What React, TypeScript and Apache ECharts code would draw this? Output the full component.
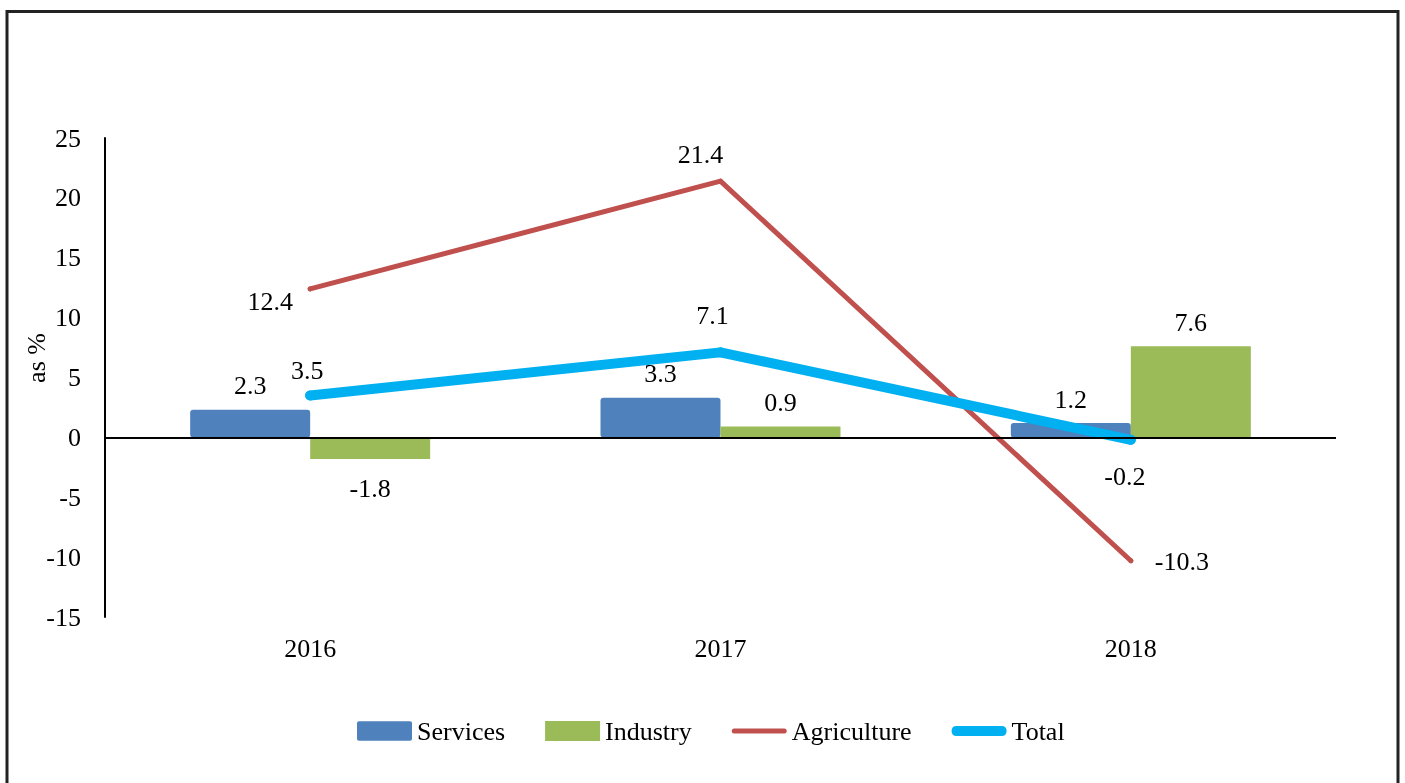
import React, { useEffect, useRef } from "react";
import * as echarts from "echarts";

const categories = ["2016", "2017", "2018"];
const services = [2.3, 3.3, 1.2];
const industry = [-1.8, 0.9, 7.6];
const agriculture = [12.4, 21.4, -10.3];
const total = [3.5, 7.1, -0.2];
const yMin = -15;
const yMax = 25;
const yInterval = 5;
const yAxisTitle = "as %";
const seriesNames = ["Services", "Industry", "Agriculture", "Total"];

// label offsets (styling, relative to each point)
const agricultureLabelOffsets = [[-40, 13], [-20, -27], [51, 1]];
const totalLabelOffsets = [[-3, -25], [-8, -37], [-6, 37]];

const FONT = "Liberation Serif";
const COLORS = ["#4F81BD", "#9BBB59", "#C0504D", "#00B0F0"];

export default function App() {
  const ref = useRef<HTMLDivElement>(null);
  useEffect(() => {
    if (!ref.current) return;
    const chart = echarts.init(ref.current, null, { renderer: "svg" });
    const labelBase = { fontSize: 26, fontFamily: FONT, color: "#000" };
    chart.setOption({
      animation: false,
      grid: { left: 105, right: 69, top: 138, bottom: 166, containLabel: false },
      xAxis: {
        type: "category",
        data: categories,
        axisLine: { show: false, onZero: false },
        axisTick: { show: false },
        axisLabel: { ...labelBase, margin: 18 },
        splitLine: { show: false },
      },
      yAxis: {
        type: "value",
        min: yMin,
        max: yMax,
        interval: yInterval,
        axisLine: { show: true, lineStyle: { color: "#000", width: 2 } },
        axisTick: { show: false },
        splitLine: { show: false },
        axisLabel: { ...labelBase, margin: 24 },
      },
      legend: {
        left: 352,
        top: 713,
        itemWidth: 55,
        itemHeight: 20,
        itemGap: 40,
        textStyle: { fontSize: 26, fontFamily: FONT, color: "#000" },
        data: [
          { name: seriesNames[0], icon: "path://M2,0H55Q57,0 57,2V18Q57,20 55,20H2Q0,20 0,18V2Q0,0 2,0Z" },
          { name: seriesNames[1], icon: "rect" },
          { name: seriesNames[2], icon: "path://M2.5,0H52.5Q55,0 55,2.5Q55,5 52.5,5H2.5Q0,5 0,2.5Q0,0 2.5,0Z" },
          { name: seriesNames[3], icon: "path://M5,0H50Q55,0 55,5Q55,10 50,10H5Q0,10 0,5Q0,0 5,0Z" },
        ],
      },
      graphic: [
        {
          type: "rect",
          shape: { x: 7, y: 11.5, width: 1391, height: 900 },
          style: { fill: "none", stroke: "#222", lineWidth: 3 },
          silent: true,
        },
        {
          type: "text",
          x: 36,
          y: 358,
          rotation: Math.PI / 2,
          style: {
            text: yAxisTitle,
            fontSize: 26,
            fontFamily: FONT,
            fill: "#000",
            align: "center",
            verticalAlign: "middle",
          },
        },
      ],
      series: [
        {
          name: seriesNames[0],
          type: "bar",
          data: services,
          barWidth: 120,
          barGap: "0%",
          itemStyle: { color: COLORS[0], borderRadius: 3 },
          label: { show: true, position: "top", distance: 11, ...labelBase },
          markLine: {
            silent: true,
            symbol: ["none", "none"],
            label: { show: false },
            lineStyle: { color: "#000", width: 2, type: "solid" },
            data: [{ yAxis: 0 }],
            z: 10,
          },
        },
        {
          name: seriesNames[1],
          type: "bar",
          data: industry.map((v) => ({
            value: v,
            label: { position: v < 0 ? "bottom" : "top", distance: v < 0 ? 17 : 11 },
          })),
          barWidth: 120,
          barGap: "0%",
          itemStyle: { color: COLORS[1] },
          label: { show: true, ...labelBase },
        },
        {
          name: seriesNames[2],
          type: "line",
          data: agriculture.map((v, i) => ({
            value: v,
            label: { offset: agricultureLabelOffsets[i] },
          })),
          symbol: "circle",
          symbolSize: 5,
          itemStyle: { color: COLORS[2] },
          lineStyle: { color: COLORS[2], width: 5, cap: "round", join: "round" },
          label: { show: true, position: "inside", ...labelBase },
          z: 3,
        },
        {
          name: seriesNames[3],
          type: "line",
          data: total.map((v, i) => ({
            value: v,
            label: { offset: totalLabelOffsets[i] },
          })),
          symbol: "circle",
          symbolSize: 10,
          itemStyle: { color: COLORS[3] },
          lineStyle: { color: COLORS[3], width: 10, cap: "round", join: "round" },
          label: { show: true, position: "inside", ...labelBase },
          z: 4,
        },
      ],
    });
    return () => chart.dispose();
  }, []);
  return (
    <div
      ref={ref}
      style={{ position: "fixed", left: 0, top: 0, width: 1405, height: 783 }}
    />
  );
}
